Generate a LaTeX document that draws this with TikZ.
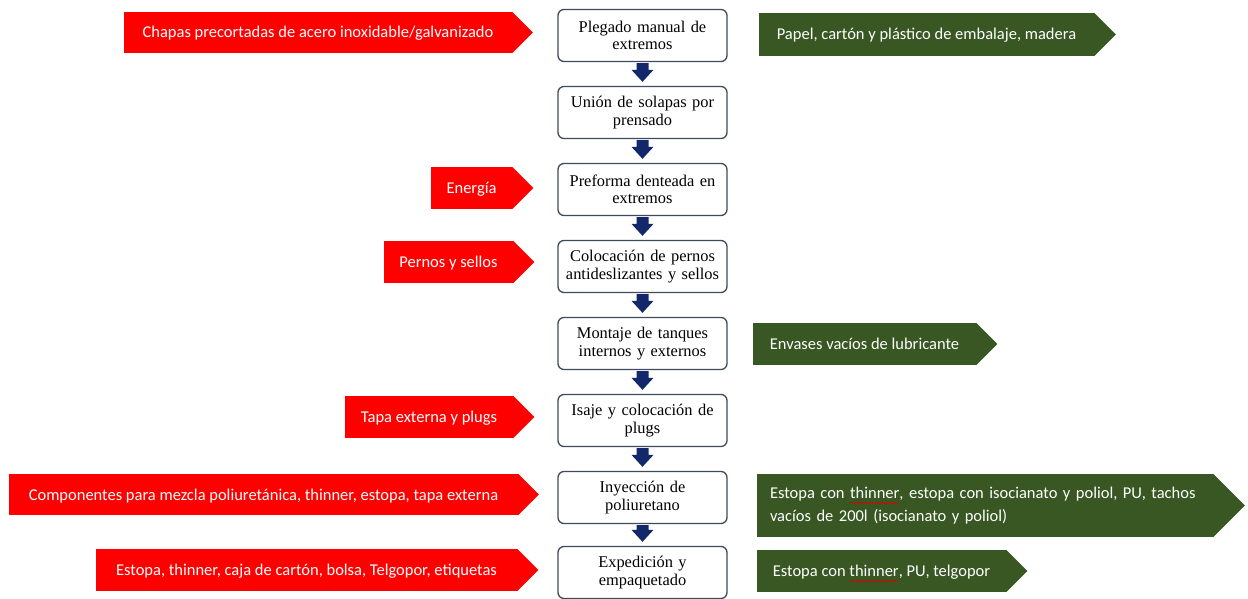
\documentclass[tikz,border=0pt]{standalone}
\usepackage{fontspec}
\setmainfont{Liberation Serif}
\newfontfamily\labelfont{Carlito}
\usetikzlibrary{calc,decorations.pathmorphing}

\definecolor{inred}{HTML}{FF0000}
\definecolor{outgreen}{HTML}{385723}
\definecolor{flownavy}{HTML}{12286A}
\definecolor{boxedge}{HTML}{3F4A5C}
\definecolor{spellred}{HTML}{E00000}

% word with a red wavy underline (spell-check mark)
\newsavebox\wavebox
\newcommand\spellwave[1]{\sbox\wavebox{#1}\rlap{\usebox\wavebox}%
  \tikz[baseline=0pt,x=1pt,y=1pt]{%
    \path[use as bounding box] (0pt,0pt) rectangle (\wd\wavebox,0pt);
    \draw[spellred, line width=0.6pt, decorate,
      decoration={snake, amplitude=0.7pt, segment length=2.6pt}]
      (0.5pt,-4.5pt) -- (\wd\wavebox-0.5pt,-4.5pt);}}

% pointed end on the right of a label body
\newcommand\tipon[2]{%
  \fill[#2] let \p1=($(#1.north)-(#1.south)$) in
    (#1.north east) -- ($(#1.east)+(0.5*\y1,0pt)$) -- (#1.south east) -- cycle;}

% block arrow from one process step down to the next
\newcommand\flowdown[2]{%
  \fill[flownavy] ($(#1.south)+(-6pt,-1pt)$) -- ($(#1.south)+(6pt,-1pt)$)
    -- ($(#2.north)+(6pt,16pt)$) -- ($(#2.north)+(11pt,16pt)$)
    -- ($(#2.north)+(0pt,4pt)$) -- ($(#2.north)+(-11pt,16pt)$)
    -- ($(#2.north)+(-6pt,16pt)$) -- cycle;}

\begin{document}
\begin{tikzpicture}[x=1pt,y=-1pt,
  stepbox/.style={draw=boxedge, line width=1.3pt, rounded corners=6pt, fill=white,
    minimum width=169pt, minimum height=52pt, text width=166pt, align=center,
    inner sep=0pt, font=\fontsize{16.4}{17.5}\selectfont},
  inbody/.style={fill=inred, text=white, minimum height=42pt, inner sep=0pt,
    text height=11.5pt, text depth=0.5pt,
    font=\labelfont\fontsize{16.5}{20}\selectfont},
  outbody/.style={fill=outgreen, text=white, minimum height=42pt, inner sep=0pt,
    font=\labelfont\fontsize{16.5}{23}\selectfont},
  oneline/.style={text height=11.5pt, text depth=0.5pt}]
\useasboundingbox (0,0) rectangle (1248,599);

% process steps
\node[stepbox] (s1) at (642.5,35.5)  {Plegado manual de\\extremos};
\node[stepbox] (s2) at (642.5,112.5) {Unión de solapas por\\prensado};
\node[stepbox] (s3) at (642.5,189.5) {Preforma denteada en\\extremos};
\node[stepbox] (s4) at (642.5,266.5) {Colocación de pernos\\antideslizantes y sellos};
\node[stepbox] (s5) at (642.5,343.5) {Montaje de tanques\\internos y externos};
\node[stepbox] (s6) at (642.5,420.5) {Isaje y colocación de\\plugs};
\node[stepbox] (s7) at (642.5,497.5) {Inyección de\\poliuretano};
\node[stepbox] (s8) at (642.5,572.5) {Expedición y\\empaquetado};

\flowdown{s1}{s2}
\flowdown{s2}{s3}
\flowdown{s3}{s4}
\flowdown{s4}{s5}
\flowdown{s5}{s6}
\flowdown{s6}{s7}
\flowdown{s7}{s8}

% inputs
\node[inbody, minimum width=388pt, minimum height=41pt] (r1) at (318,32.5)
  {Chapas precortadas de acero inoxidable/galvanizado};
\node[inbody, minimum width=81pt] (r2) at (471.5,188) {Energía};
\node[inbody, minimum width=129pt] (r3) at (448.5,262) {Pernos y sellos};
\node[inbody, minimum width=168pt] (r4) at (429,417) {Tapa externa y plugs};
\node[inbody, minimum width=509pt, minimum height=41pt] (r5) at (263.5,494.5)
  {Componentes para mezcla poliuretánica, thinner, estopa, tapa externa};
\node[inbody, minimum width=421pt] (r6) at (306.5,570)
  {Estopa, thinner, caja de cartón, bolsa, Telgopor, etiquetas};
\foreach \lbl in {r1,r2,r3,r4,r5,r6} {\tipon{\lbl}{inred}}

% outputs
\node[outbody, oneline, minimum width=335pt, minimum height=43pt] (g1) at (926.5,34.5)
  {Papel, cartón y plástico de embalaje, madera};
\node[outbody, oneline, minimum width=223pt] (g2) at (864.5,344) {Envases vacíos de lubricante};
\node[outbody, minimum width=456pt, minimum height=63pt, text width=430pt, align=left] (g3) at (985,505.5)
  {Estopa con \spellwave{thinner}, estopa con isocianato y poliol, PU, tachos\\vacíos de 200l (isocianato y poliol)};
\node[outbody, oneline, minimum width=249pt] (g4) at (881.5,571)
  {Estopa con \spellwave{thinner}, PU, telgopor};
\foreach \lbl in {g1,g2,g3,g4} {\tipon{\lbl}{outgreen}}
\end{tikzpicture}
\end{document}
